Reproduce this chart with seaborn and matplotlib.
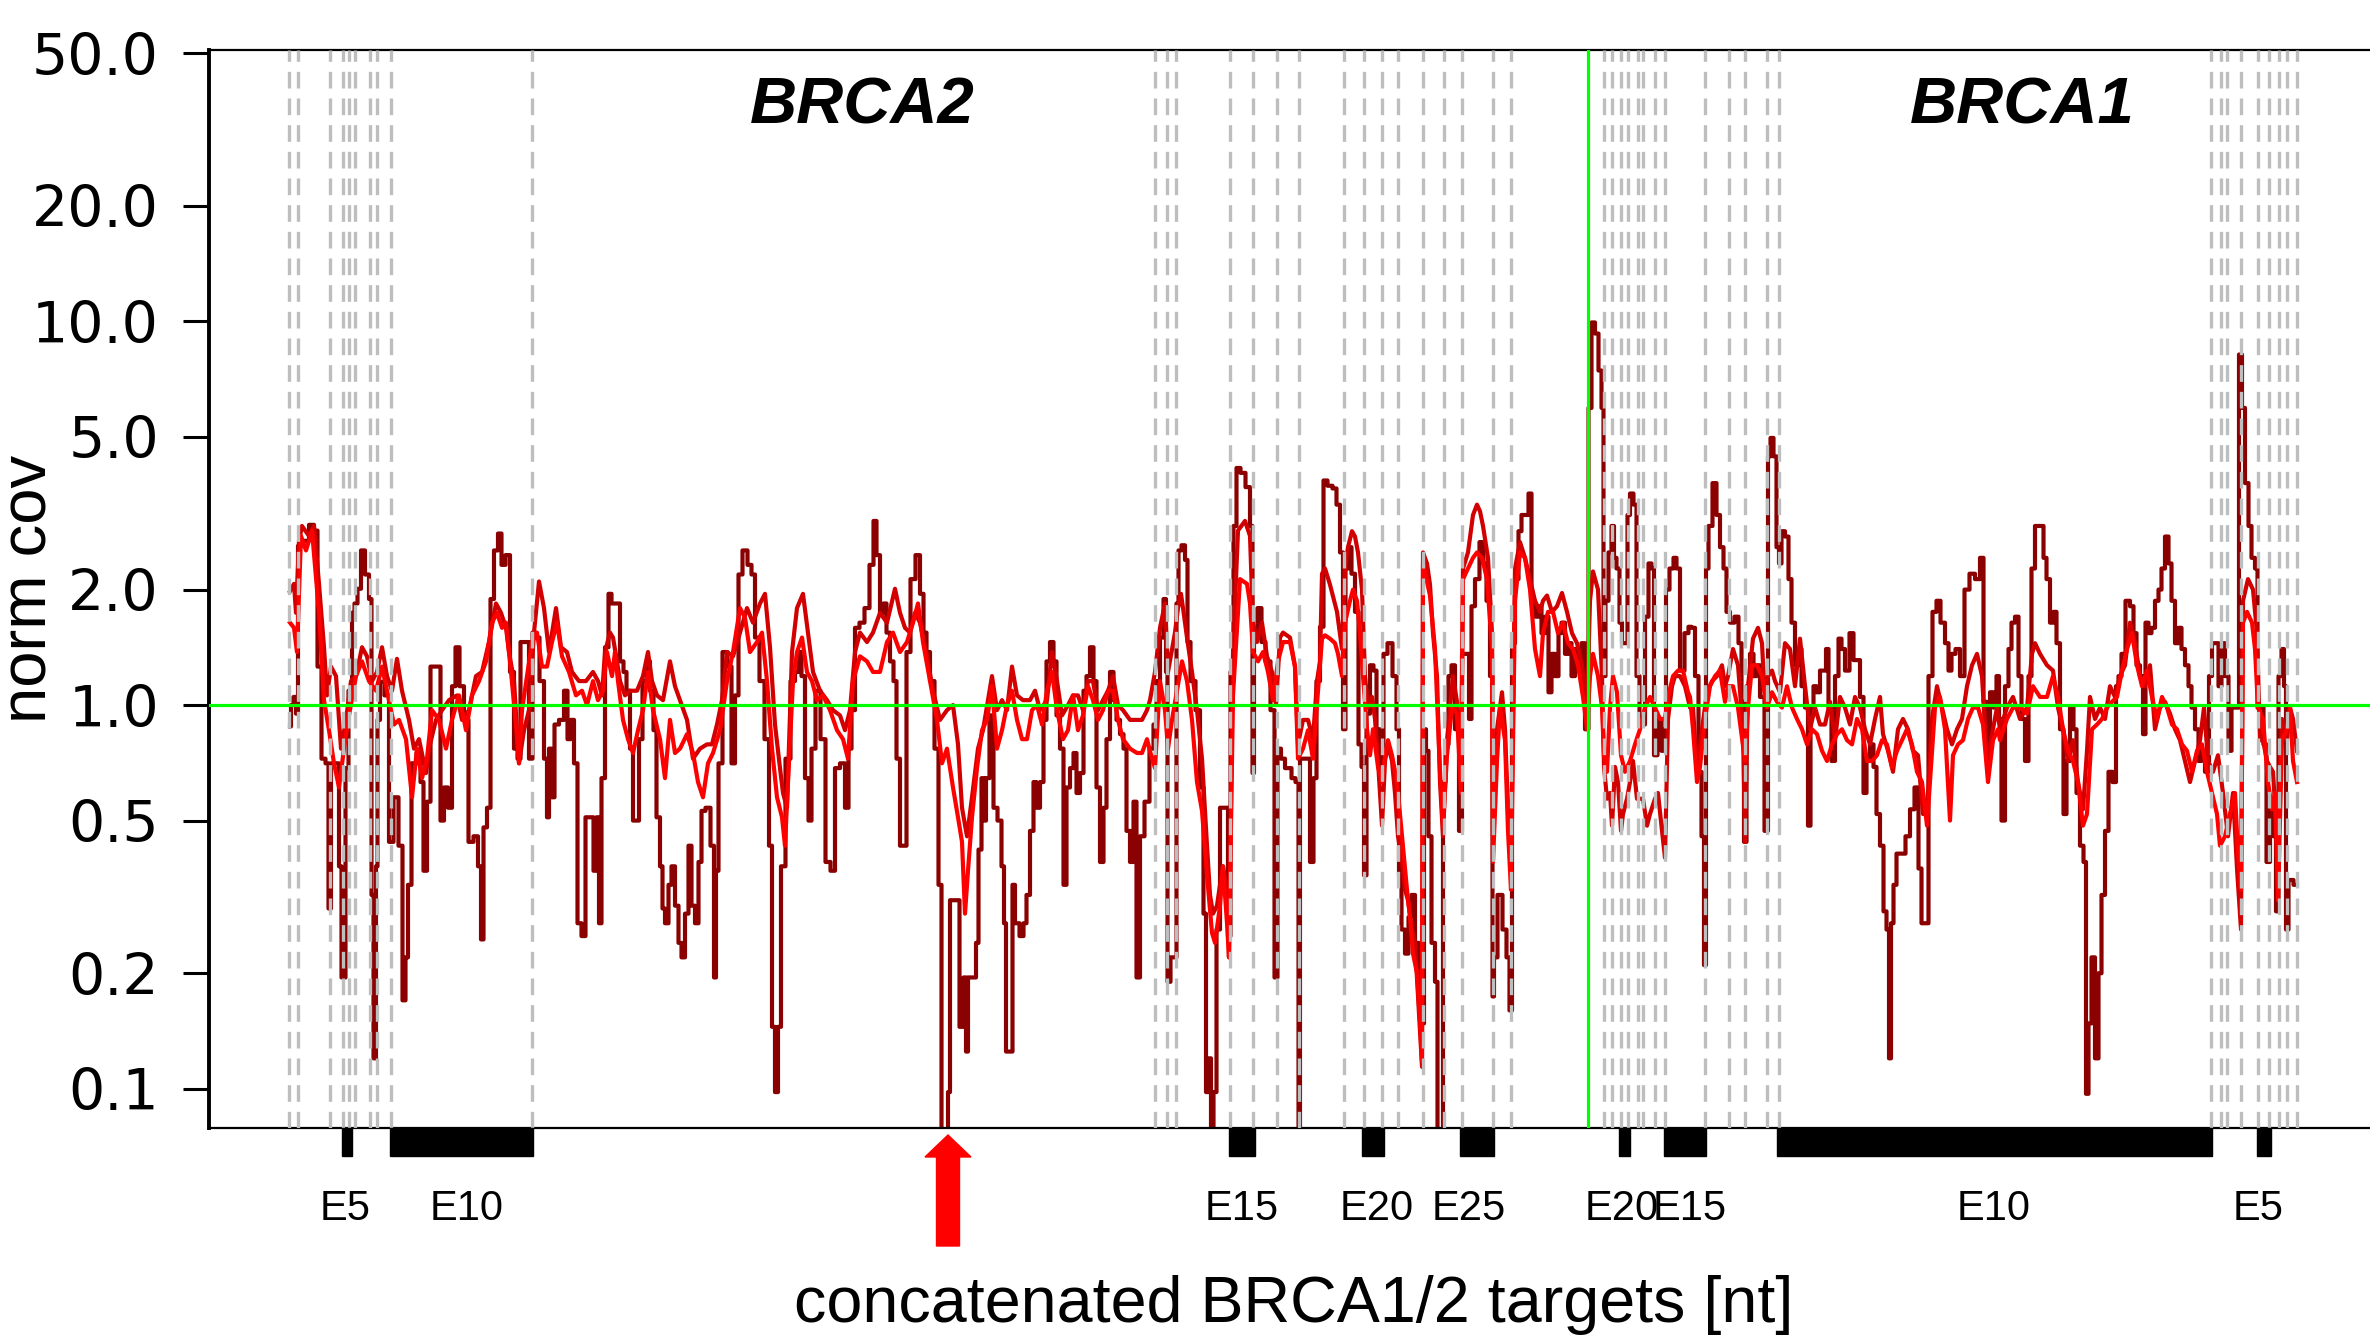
import matplotlib
matplotlib.use("Agg")
import matplotlib.pyplot as plt
import matplotlib.transforms as mtransforms
from matplotlib.patches import Rectangle, FancyArrow
import seaborn as sns
import numpy as np

# positions along the concatenated BRCA2 + BRCA1 targets, normalised coverage
dark_trace = [
    (290, 0.88), (292, 1.0), (295, 1.05), (297, 0.95), (299, 2.6), (306, 2.68), (312, 2.95), (316, 2.85),
    (319, 1.26), (324, 0.725), (327, 0.705), (330, 0.295), (332, 0.705), (337, 0.705), (341, 0.38),
    (342, 0.195), (345, 0.195), (346, 0.685), (351, 1.09), (353, 1.74), (356, 1.84), (359, 2.01),
    (363, 2.53), (367, 2.19), (371, 1.89), (372, 0.32), (375, 0.12), (377, 0.38), (378, 0.915),
    (382, 1.15), (387, 1.06), (391, 0.44), (396, 0.575), (401, 0.43), (404, 0.17), (407, 0.22),
    (409, 0.34), (414, 0.705), (419, 0.75), (422, 0.63), (425, 0.37), (429, 0.56), (432, 1.26),
    (439, 1.26), (442, 0.50), (446, 0.61), (450, 0.54), (454, 1.12), (457, 1.415), (462, 1.12),
    (466, 0.915), (471, 0.44), (476, 0.455), (480, 0.38), (482, 0.245), (485, 0.48), (489, 0.54),
    (492, 1.89), (496, 2.53), (500, 2.8), (503, 2.32), (508, 2.46), (512, 1.22), (516, 0.77),
    (519, 0.725), (522, 1.46), (527, 1.46), (531, 0.725), (534, 1.545), (537, 1.50), (542, 1.155),
    (546, 0.725), (548, 0.51), (550, 0.77), (553, 0.575), (556, 0.89), (562, 0.915), (566, 1.09),
    (569, 0.815), (572, 0.915), (576, 0.705), (579, 0.27), (584, 0.25), (587, 0.51), (592, 0.51),
    (595, 0.37), (598, 0.51), (600, 0.27), (603, 0.645), (607, 1.415), (610, 1.95), (613, 1.84),
    (618, 1.84), (622, 1.30), (625, 1.22), (628, 1.09), (632, 0.77), (634, 0.50), (638, 0.50),
    (640, 0.815), (645, 1.155), (648, 1.30), (652, 1.09), (655, 0.86), (658, 0.51), (662, 0.38),
    (663, 0.295), (667, 0.27), (670, 0.34), (673, 0.38), (677, 0.30), (680, 0.24), (683, 0.22),
    (687, 0.286), (690, 0.43), (693, 0.30), (697, 0.27), (700, 0.39), (703, 0.53), (708, 0.54),
    (713, 0.43), (715, 0.195), (717, 0.37), (720, 0.705), (725, 1.375), (730, 1.26), (733, 0.705),
    (737, 1.06), (740, 2.19), (745, 2.53), (750, 2.32), (753, 2.19), (757, 1.50), (762, 1.155),
    (767, 0.815), (771, 0.43), (773, 0.145), (777, 0.098), (779, 0.145), (783, 0.38), (788, 0.725),
    (793, 1.155), (797, 1.22), (800, 1.375), (803, 1.19), (807, 0.645), (810, 0.50), (813, 0.77),
    (818, 1.09), (823, 0.815), (828, 0.39), (833, 0.37), (837, 0.685), (843, 0.705), (847, 0.54),
    (850, 0.77), (853, 0.97), (857, 1.59), (862, 1.64), (867, 1.79), (872, 2.32), (875, 3.02),
    (878, 2.46), (882, 1.74), (885, 1.84), (888, 1.545), (892, 1.30), (895, 1.155), (898, 0.725),
    (902, 0.43), (905, 0.43), (908, 1.375), (913, 2.13), (918, 2.46), (922, 1.95), (925, 1.545),
    (928, 1.375), (932, 1.155), (937, 0.77), (940, 0.34), (943, 0.07), (947, 0.07), (949, 0.098),
    (951, 0.31), (957, 0.31), (962, 0.145), (965, 0.195), (967, 0.125), (969, 0.195), (975, 0.195),
    (977, 0.24), (980, 0.42), (983, 0.645), (985, 0.50), (987, 0.645), (992, 0.94), (995, 0.54),
    (1000, 0.50), (1003, 0.38), (1005, 0.27), (1007, 0.125), (1012, 0.125), (1013, 0.34),
    (1017, 0.27), (1022, 0.25), (1025, 0.27), (1028, 0.32), (1032, 0.47), (1035, 0.63),
    (1038, 0.54), (1042, 0.63), (1045, 0.915), (1048, 1.30), (1052, 1.46), (1055, 1.30),
    (1058, 0.94), (1062, 0.77), (1065, 0.34), (1068, 0.61), (1072, 0.685), (1075, 0.75),
    (1078, 0.59), (1082, 0.665), (1085, 1.09), (1088, 1.19), (1092, 1.415), (1095, 1.155),
    (1098, 0.61), (1102, 0.39), (1105, 0.54), (1108, 0.815), (1112, 1.22), (1115, 1.03),
    (1118, 0.915), (1122, 0.84), (1125, 0.77), (1128, 0.47), (1132, 0.39), (1135, 0.56),
    (1138, 0.195), (1142, 0.455), (1147, 0.56), (1152, 0.77), (1155, 0.89), (1158, 1.155),
    (1162, 1.50), (1165, 1.89), (1167, 1.22), (1168, 0.19), (1173, 0.22), (1176, 0.22),
    (1177, 1.84), (1180, 2.53), (1183, 2.61), (1187, 2.39), (1188, 1.46), (1193, 1.155),
    (1198, 0.97), (1202, 0.61), (1205, 0.286), (1207, 0.098), (1210, 0.12), (1212, 0.07),
    (1215, 0.098), (1218, 0.26), (1222, 0.54), (1227, 0.54), (1229, 0.25), (1232, 1.22),
    (1235, 2.93), (1238, 4.15), (1243, 4.03), (1248, 3.70), (1252, 2.93), (1253, 0.665),
    (1255, 1.50), (1260, 1.79), (1263, 1.46), (1268, 1.30), (1273, 0.97), (1276, 0.195),
    (1279, 0.77), (1283, 0.725), (1287, 0.685), (1290, 0.685), (1293, 0.645), (1298, 0.63),
    (1299, 0.07), (1301, 0.725), (1308, 0.725), (1312, 0.39), (1315, 0.645), (1318, 1.155),
    (1322, 1.6), (1325, 3.85), (1330, 3.73), (1335, 3.67), (1338, 3.33), (1342, 2.50),
    (1344, 0.865), (1347, 2.27), (1350, 2.58), (1353, 2.20), (1357, 1.75), (1360, 0.79),
    (1363, 0.69), (1365, 0.36), (1368, 0.95), (1372, 1.27), (1375, 1.23), (1378, 0.865),
    (1382, 0.67), (1385, 1.36), (1390, 1.45), (1395, 1.19), (1398, 0.865), (1400, 0.36),
    (1403, 0.26), (1407, 0.225), (1410, 0.28), (1413, 0.32), (1417, 0.24), (1420, 0.174),
    (1423, 0.148), (1425, 0.865), (1427, 0.76), (1430, 0.455), (1433, 0.24), (1437, 0.19),
    (1438, 0.07), (1442, 0.07), (1444, 0.63), (1447, 0.79), (1450, 1.19), (1453, 1.27),
    (1457, 0.865), (1461, 0.47), (1463, 1.36), (1468, 1.36), (1470, 0.92), (1473, 1.81),
    (1477, 2.13), (1482, 2.66), (1485, 2.34), (1488, 1.87), (1492, 1.19), (1493, 0.174),
    (1495, 0.22), (1500, 0.32), (1505, 0.26), (1508, 0.22), (1511, 0.16), (1513, 1.45),
    (1517, 2.13), (1520, 2.84), (1523, 3.13), (1527, 3.13), (1530, 3.56), (1533, 1.87),
    (1537, 1.70), (1540, 1.81), (1543, 1.54), (1547, 1.70), (1550, 1.08), (1553, 1.36),
    (1557, 1.19), (1560, 1.54), (1563, 1.64), (1567, 1.36), (1570, 1.45), (1573, 1.19),
    (1577, 1.40), (1580, 1.23), (1583, 1.45), (1587, 0.865), (1590, 5.95), (1593, 9.94),
    (1597, 9.3), (1600, 7.45), (1603, 5.95), (1604, 1.19), (1607, 1.87), (1610, 2.50),
    (1613, 2.93), (1615, 2.42), (1618, 2.27), (1621, 1.64), (1623, 1.45), (1627, 1.45),
    (1628, 3.13), (1632, 3.56), (1635, 3.33), (1638, 1.19), (1641, 0.92), (1643, 0.89),
    (1647, 1.70), (1650, 2.34), (1653, 2.27), (1655, 0.74), (1660, 0.92), (1663, 0.76),
    (1665, 0.865), (1667, 2.0), (1672, 2.27), (1675, 2.42), (1678, 2.27), (1682, 1.23),
    (1687, 1.54), (1690, 1.60), (1693, 1.59), (1697, 1.19), (1700, 0.67), (1703, 0.455),
    (1705, 0.21), (1707, 2.27), (1710, 2.93), (1715, 3.79), (1718, 3.13), (1722, 2.58),
    (1725, 2.27), (1728, 1.75), (1732, 1.64), (1737, 1.70), (1740, 1.45), (1743, 1.02),
    (1745, 0.44), (1748, 1.12), (1752, 1.36), (1755, 1.19), (1758, 1.27), (1762, 1.05),
    (1767, 0.47), (1769, 4.45), (1772, 4.97), (1775, 4.45), (1778, 2.58), (1780, 2.34),
    (1783, 2.84), (1787, 2.75), (1790, 2.13), (1793, 1.64), (1797, 1.27), (1800, 1.40),
    (1803, 1.12), (1807, 0.985), (1809, 0.485), (1812, 0.985), (1815, 1.12), (1818, 1.08),
    (1822, 1.23), (1825, 1.23), (1827, 1.40), (1830, 0.985), (1833, 0.715), (1837, 1.19),
    (1840, 1.49), (1843, 1.40), (1847, 1.23), (1852, 1.54), (1855, 1.31), (1858, 1.31),
    (1862, 1.05), (1865, 0.59), (1868, 0.715), (1872, 0.79), (1875, 0.69), (1878, 0.52),
    (1882, 0.43), (1885, 0.29), (1888, 0.26), (1890, 0.12), (1892, 0.27), (1895, 0.34),
    (1898, 0.41), (1903, 0.41), (1908, 0.455), (1912, 0.535), (1917, 0.61), (1920, 0.375),
    (1923, 0.27), (1927, 0.27), (1930, 1.19), (1935, 1.75), (1938, 1.87), (1943, 1.64),
    (1947, 1.45), (1950, 1.23), (1953, 1.36), (1958, 1.40), (1962, 1.19), (1967, 2.0),
    (1972, 2.20), (1978, 2.13), (1982, 2.42), (1985, 1.02), (1988, 0.79), (1992, 1.08),
    (1995, 0.985), (1998, 1.19), (2000, 0.92), (2003, 0.50), (2007, 1.12), (2010, 1.40),
    (2013, 1.64), (2017, 1.70), (2020, 1.19), (2023, 0.92), (2027, 0.715), (2030, 1.19),
    (2033, 2.27), (2037, 2.93), (2042, 2.93), (2045, 2.42), (2048, 2.13), (2052, 1.64),
    (2055, 1.75), (2058, 1.45), (2062, 0.865), (2065, 0.52), (2068, 0.715), (2072, 0.985),
    (2075, 0.865), (2078, 0.59), (2082, 0.43), (2085, 0.39), (2087, 0.097), (2090, 0.148),
    (2093, 0.22), (2097, 0.12), (2100, 0.20), (2103, 0.32), (2107, 0.47), (2110, 0.67),
    (2115, 0.63), (2117, 1.12), (2120, 1.19), (2123, 1.36), (2128, 1.87), (2132, 1.81),
    (2135, 1.54), (2138, 1.27), (2142, 1.19), (2144, 0.84), (2147, 1.64), (2150, 1.54),
    (2153, 1.59), (2157, 1.87), (2160, 2.0), (2163, 2.27), (2167, 2.75), (2170, 2.34),
    (2173, 1.87), (2177, 1.45), (2180, 1.59), (2183, 1.40), (2187, 1.27), (2190, 1.12),
    (2193, 0.985), (2197, 0.865), (2200, 0.715), (2203, 0.76), (2207, 0.67), (2211, 1.19),
    (2213, 1.45), (2217, 1.45), (2220, 1.12), (2223, 1.45), (2227, 1.19), (2230, 0.76),
    (2233, 0.985), (2237, 0.985), (2241, 8.2), (2243, 5.95), (2247, 3.79), (2250, 2.93),
    (2253, 2.42), (2257, 2.27), (2258, 0.985), (2262, 0.985), (2265, 0.79), (2268, 0.39),
    (2272, 0.55), (2275, 0.455), (2277, 0.29), (2280, 1.19), (2283, 1.40), (2285, 1.12),
    (2287, 0.26), (2290, 0.35), (2297, 0.34),
]

mid_trace = [
    (290, 1.98), (294, 2.07), (296, 1.74), (299, 2.68), (302, 2.93), (309, 2.76), (314, 2.93),
    (319, 2.07), (324, 1.415), (327, 1.06), (331, 1.26), (336, 1.19), (341, 0.77), (346, 0.915),
    (351, 1.155), (356, 1.19), (362, 1.415), (367, 1.34), (372, 1.155), (377, 1.22), (382, 1.415),
    (387, 1.19), (392, 1.09), (397, 1.32), (402, 1.09), (409, 0.915), (414, 0.77), (419, 0.815),
    (426, 0.665), (429, 0.77), (436, 0.915), (442, 0.97), (449, 1.03), (457, 1.06), (462, 0.915),
    (469, 0.97), (476, 1.19), (482, 1.22), (489, 1.46), (496, 1.84), (501, 1.74), (506, 1.59),
    (509, 1.375), (514, 1.155), (519, 0.705), (524, 0.86), (529, 0.97), (534, 1.545), (539, 2.1),
    (544, 1.79), (549, 1.375), (556, 1.79), (561, 1.415), (567, 1.375), (572, 1.22), (579, 1.155),
    (586, 1.155), (593, 1.22), (598, 1.155), (602, 1.06), (605, 1.375), (610, 1.545), (613, 1.50),
    (617, 1.30), (620, 1.155), (625, 1.06), (630, 1.09), (637, 1.09), (643, 1.19), (648, 1.375),
    (652, 1.155), (657, 1.06), (663, 1.03), (670, 1.30), (675, 1.12), (680, 1.03), (687, 0.915),
    (693, 0.725), (700, 0.77), (707, 0.79), (712, 0.79), (717, 0.89), (722, 1.03), (727, 1.375),
    (733, 1.34), (740, 1.545), (747, 1.79), (753, 1.64), (760, 1.84), (765, 1.95), (770, 1.415),
    (775, 0.89), (780, 0.685), (783, 0.59), (787, 0.54), (792, 1.375), (797, 1.79), (803, 1.95),
    (808, 1.545), (813, 1.22), (820, 1.09), (827, 1.03), (833, 0.97), (840, 0.94), (845, 0.86),
    (850, 0.97), (855, 1.375), (860, 1.545), (867, 1.46), (873, 1.545), (880, 1.74), (887, 1.64),
    (895, 2.01), (900, 1.74), (905, 1.59), (910, 1.545), (915, 1.74), (920, 1.64), (927, 1.34),
    (933, 1.09), (940, 0.915), (947, 0.97), (953, 1.0), (958, 0.79), (962, 0.54), (967, 0.455),
    (972, 0.575), (978, 0.77), (983, 0.86), (988, 1.03), (992, 1.19), (997, 0.97), (1002, 1.03),
    (1007, 0.97), (1012, 1.26), (1017, 1.06), (1023, 1.03), (1030, 1.03), (1035, 1.09),
    (1040, 0.97), (1047, 1.03), (1052, 1.375), (1057, 1.155), (1062, 0.94), (1068, 1.0),
    (1073, 1.06), (1078, 1.06), (1083, 0.97), (1088, 1.155), (1093, 1.155), (1098, 0.97),
    (1103, 1.03), (1108, 1.09), (1113, 1.19), (1118, 1.0), (1123, 0.97), (1130, 0.915),
    (1137, 0.915), (1142, 0.915), (1147, 0.97), (1150, 1.03), (1155, 1.22), (1160, 1.59),
    (1165, 1.84), (1168, 1.22), (1175, 1.545), (1178, 1.79), (1181, 1.95), (1183, 1.79),
    (1187, 1.50), (1192, 1.22), (1197, 0.97), (1202, 0.725), (1207, 0.43), (1210, 0.32),
    (1213, 0.286), (1217, 0.30), (1220, 0.34), (1223, 0.38), (1227, 0.33), (1229, 0.22),
    (1233, 1.375), (1238, 2.85), (1245, 3.02), (1250, 2.76), (1253, 1.64), (1257, 1.46),
    (1262, 1.64), (1267, 1.34), (1272, 1.22), (1276, 1.0), (1280, 1.50), (1283, 1.545),
    (1290, 1.50), (1295, 1.26), (1298, 0.79), (1303, 0.915), (1308, 0.915), (1313, 0.815),
    (1317, 1.155), (1320, 1.30), (1322, 2.20), (1325, 2.27), (1330, 2.06), (1337, 1.75),
    (1342, 1.40), (1345, 2.27), (1348, 2.58), (1352, 2.84), (1355, 2.75), (1358, 2.50),
    (1362, 2.0), (1365, 1.19), (1368, 0.985), (1372, 1.05), (1375, 0.92), (1378, 0.715),
    (1382, 0.485), (1385, 0.715), (1388, 0.79), (1392, 0.715), (1395, 0.59), (1398, 0.455),
    (1402, 0.39), (1405, 0.33), (1408, 0.31), (1412, 0.26), (1415, 0.24), (1418, 0.174),
    (1422, 0.114), (1423, 2.50), (1427, 2.34), (1430, 2.06), (1433, 1.54), (1437, 1.19),
    (1440, 0.63), (1443, 0.455), (1447, 0.81), (1450, 0.985), (1453, 1.19), (1457, 1.02),
    (1461, 0.63), (1463, 2.27), (1468, 2.50), (1473, 3.13), (1477, 3.33), (1480, 3.2),
    (1483, 2.93), (1488, 2.42), (1492, 1.54), (1493, 0.455), (1497, 0.865), (1502, 1.08),
    (1505, 0.865), (1508, 0.535), (1511, 0.39), (1515, 2.27), (1520, 2.66), (1525, 2.42),
    (1530, 2.13), (1535, 1.87), (1540, 1.75), (1543, 1.87), (1547, 1.93), (1552, 1.75),
    (1557, 1.81), (1562, 1.96), (1567, 1.75), (1572, 1.54), (1577, 1.45), (1582, 1.27),
    (1587, 0.985), (1590, 1.87), (1593, 2.23), (1598, 2.0), (1602, 1.19), (1604, 0.69),
    (1607, 0.57), (1610, 0.59), (1612, 0.485), (1615, 0.69), (1618, 0.63), (1621, 0.47),
    (1623, 0.52), (1627, 0.57), (1630, 0.63), (1633, 0.715), (1637, 0.57), (1640, 0.57),
    (1643, 0.57), (1647, 0.485), (1650, 0.52), (1655, 0.57), (1658, 0.59), (1662, 0.47),
    (1665, 0.40), (1668, 0.92), (1672, 1.12), (1675, 1.19), (1680, 1.19), (1685, 1.12),
    (1690, 0.985), (1693, 0.985), (1697, 0.67), (1702, 0.865), (1707, 1.08), (1712, 1.155),
    (1717, 1.19), (1722, 1.27), (1725, 1.12), (1728, 1.19), (1733, 1.40), (1738, 1.27),
    (1743, 0.865), (1745, 0.44), (1748, 1.12), (1753, 1.49), (1758, 1.59), (1762, 1.45),
    (1765, 1.02), (1768, 1.19), (1772, 1.23), (1775, 1.155), (1780, 1.08), (1785, 1.45),
    (1790, 1.40), (1795, 1.12), (1800, 1.49), (1805, 1.12), (1810, 0.865), (1815, 0.985),
    (1820, 0.89), (1825, 0.89), (1830, 1.02), (1835, 0.81), (1840, 1.05), (1845, 0.985),
    (1850, 0.89), (1855, 1.05), (1860, 0.985), (1865, 0.865), (1870, 0.79), (1875, 0.92),
    (1880, 1.05), (1883, 0.84), (1888, 0.76), (1893, 0.67), (1898, 0.865), (1903, 0.92),
    (1908, 0.865), (1913, 0.76), (1918, 0.74), (1923, 0.52), (1927, 0.52), (1932, 0.92),
    (1937, 1.12), (1942, 0.985), (1947, 0.865), (1952, 0.79), (1957, 0.865), (1962, 0.92),
    (1967, 1.12), (1972, 1.27), (1977, 1.36), (1982, 1.19), (1987, 0.715), (1992, 0.84),
    (1997, 0.985), (2000, 0.865), (2007, 0.985), (2013, 1.05), (2020, 0.92), (2027, 0.985),
    (2032, 1.36), (2035, 1.45), (2040, 1.36), (2047, 1.27), (2053, 1.23), (2058, 0.985),
    (2063, 0.865), (2068, 0.715), (2073, 0.81), (2078, 0.63), (2083, 0.535), (2087, 0.76),
    (2090, 1.05), (2095, 0.92), (2100, 0.985), (2105, 0.92), (2110, 1.12), (2115, 1.05),
    (2120, 1.19), (2125, 1.27), (2130, 1.64), (2135, 1.45), (2140, 1.19), (2145, 1.12),
    (2150, 1.27), (2155, 0.865), (2160, 0.985), (2165, 1.02), (2170, 0.95), (2175, 0.865),
    (2180, 0.81), (2185, 0.715), (2190, 0.63), (2195, 0.715), (2200, 0.81), (2204, 0.985),
    (2208, 0.715), (2213, 0.67), (2218, 0.74), (2223, 0.59), (2228, 0.455), (2233, 0.59),
    (2237, 0.375), (2241, 0.26), (2243, 1.87), (2248, 2.13), (2253, 2.0), (2257, 1.54),
    (2260, 0.81), (2263, 0.81), (2267, 0.715), (2270, 0.69), (2273, 0.67), (2277, 0.455),
    (2282, 0.92), (2287, 0.81), (2290, 0.985), (2293, 0.92), (2297, 0.76),
]

bright_trace = [
    (290, 1.64), (294, 1.59), (297, 1.375), (301, 2.76), (306, 2.53), (312, 2.85), (319, 1.74),
    (324, 1.03), (329, 0.86), (334, 0.705), (339, 0.61), (344, 0.77), (349, 0.94), (356, 1.19),
    (362, 1.30), (369, 1.155), (376, 1.09), (382, 1.26), (389, 1.03), (394, 0.89), (399, 0.915),
    (406, 0.815), (412, 0.575), (417, 0.77), (422, 0.645), (427, 0.725), (432, 0.97), (439, 0.915),
    (446, 0.77), (452, 0.915), (459, 1.06), (466, 0.86), (472, 1.06), (479, 1.155), (486, 1.30),
    (492, 1.64), (497, 1.74), (502, 1.59), (506, 1.64), (511, 1.22), (516, 0.89), (519, 0.705),
    (522, 0.97), (527, 1.19), (532, 1.46), (537, 1.545), (542, 1.26), (547, 1.26), (552, 1.46),
    (557, 1.64), (562, 1.34), (569, 1.22), (576, 1.06), (582, 1.09), (587, 1.0), (593, 1.155),
    (598, 1.03), (603, 1.09), (607, 1.375), (612, 1.19), (615, 1.375), (618, 1.155), (623, 0.915),
    (628, 0.815), (633, 0.75), (638, 0.86), (643, 0.97), (648, 1.22), (653, 0.97), (660, 0.815),
    (665, 0.645), (670, 0.915), (675, 0.75), (680, 0.77), (687, 0.84), (693, 0.75), (698, 0.63),
    (703, 0.575), (708, 0.705), (713, 0.75), (720, 0.86), (727, 1.155), (733, 1.375), (740, 1.79),
    (745, 1.69), (750, 1.375), (757, 1.46), (762, 1.545), (767, 1.155), (772, 0.77), (777, 0.575),
    (782, 0.51), (785, 0.43), (788, 0.63), (793, 1.155), (797, 1.375), (802, 1.50), (807, 1.22),
    (812, 1.155), (817, 1.03), (823, 1.06), (830, 0.97), (837, 0.86), (843, 0.815), (848, 0.725),
    (853, 1.155), (860, 1.34), (867, 1.30), (873, 1.22), (880, 1.22), (887, 1.46), (893, 1.545),
    (900, 1.375), (907, 1.46), (913, 1.64), (918, 1.84), (923, 1.46), (930, 1.155), (937, 0.915),
    (942, 0.705), (947, 0.77), (953, 0.61), (958, 0.51), (962, 0.44), (965, 0.286), (968, 0.37),
    (972, 0.51), (977, 0.685), (982, 0.86), (987, 0.915), (992, 1.12), (997, 0.77), (1002, 0.86),
    (1007, 1.0), (1012, 1.09), (1017, 0.915), (1022, 0.815), (1027, 0.815), (1032, 0.97),
    (1037, 1.0), (1042, 0.89), (1047, 1.09), (1052, 1.22), (1057, 0.97), (1063, 0.815),
    (1068, 0.86), (1073, 1.06), (1078, 0.86), (1083, 0.94), (1088, 1.12), (1093, 1.03),
    (1098, 0.915), (1103, 0.97), (1108, 1.09), (1113, 1.09), (1118, 0.915), (1123, 0.815),
    (1130, 0.77), (1137, 0.75), (1142, 0.75), (1147, 0.815), (1152, 0.725), (1155, 0.685),
    (1160, 1.155), (1165, 0.97), (1168, 0.77), (1172, 0.915), (1177, 1.09), (1182, 1.30),
    (1187, 1.155), (1192, 0.915), (1197, 0.63), (1202, 0.53), (1207, 0.36), (1212, 0.255),
    (1215, 0.24), (1220, 0.30), (1223, 0.38), (1227, 0.27), (1229, 0.22), (1233, 1.06),
    (1240, 2.13), (1247, 2.07), (1250, 1.84), (1253, 1.375), (1258, 1.30), (1263, 1.375),
    (1268, 1.22), (1273, 1.03), (1278, 1.30), (1283, 1.46), (1290, 1.46), (1295, 1.26),
    (1298, 0.725), (1303, 0.77), (1308, 0.86), (1313, 0.725), (1318, 1.09), (1322, 1.49),
    (1325, 1.52), (1330, 1.49), (1335, 1.45), (1338, 1.36), (1342, 1.19), (1345, 1.64),
    (1350, 1.87), (1353, 2.0), (1357, 1.87), (1360, 1.54), (1363, 1.19), (1367, 0.865),
    (1370, 0.74), (1373, 0.865), (1378, 0.69), (1382, 0.63), (1385, 0.74), (1388, 0.81),
    (1392, 0.74), (1397, 0.63), (1402, 0.455), (1407, 0.33), (1410, 0.28), (1413, 0.225),
    (1417, 0.20), (1420, 0.15), (1422, 0.118), (1423, 2.34), (1430, 1.93), (1435, 1.40),
    (1440, 0.67), (1443, 0.485), (1447, 0.74), (1452, 0.985), (1457, 0.95), (1461, 0.59),
    (1463, 2.13), (1468, 2.27), (1473, 2.42), (1477, 2.50), (1482, 2.42), (1487, 2.13),
    (1492, 1.40), (1493, 0.39), (1497, 0.715), (1500, 0.985), (1505, 0.81), (1508, 0.47),
    (1511, 0.33), (1515, 1.87), (1520, 2.50), (1525, 2.42), (1530, 2.0), (1535, 1.40),
    (1540, 1.19), (1543, 1.54), (1548, 1.75), (1553, 1.75), (1558, 1.54), (1563, 1.64),
    (1568, 1.45), (1573, 1.40), (1578, 1.27), (1583, 1.05), (1587, 0.865), (1590, 1.19),
    (1593, 1.36), (1598, 1.19), (1602, 0.985), (1604, 0.74), (1607, 0.67), (1610, 0.985),
    (1613, 1.19), (1617, 1.08), (1621, 0.74), (1625, 0.67), (1630, 0.715), (1635, 0.79),
    (1640, 0.865), (1645, 0.985), (1650, 1.05), (1655, 0.985), (1660, 0.92), (1665, 0.92),
    (1668, 1.05), (1673, 1.19), (1678, 1.23), (1683, 1.23), (1688, 1.08), (1690, 1.05),
    (1693, 0.865), (1697, 0.63), (1700, 0.69), (1705, 0.92), (1710, 1.12), (1715, 1.19),
    (1720, 1.23), (1725, 1.02), (1728, 1.12), (1733, 1.12), (1738, 0.985), (1745, 0.715),
    (1748, 0.985), (1752, 1.27), (1757, 1.27), (1762, 1.19), (1767, 0.985), (1772, 1.08),
    (1777, 1.02), (1782, 0.985), (1787, 1.12), (1792, 0.985), (1797, 0.92), (1802, 0.865),
    (1807, 0.79), (1812, 0.865), (1817, 0.84), (1822, 0.76), (1827, 0.715), (1832, 0.79),
    (1837, 0.84), (1842, 0.865), (1847, 0.81), (1852, 0.79), (1857, 0.92), (1862, 0.865),
    (1867, 0.715), (1872, 0.715), (1877, 0.74), (1882, 0.81), (1887, 0.79), (1892, 0.69),
    (1897, 0.76), (1902, 0.81), (1907, 0.865), (1912, 0.79), (1917, 0.67), (1922, 0.63),
    (1927, 0.485), (1931, 0.69), (1935, 0.985), (1940, 1.05), (1945, 0.865), (1950, 0.50),
    (1953, 0.74), (1958, 0.79), (1963, 0.81), (1968, 0.92), (1973, 0.985), (1978, 0.985),
    (1983, 0.89), (1988, 0.63), (1993, 0.81), (1998, 0.865), (2000, 0.81), (2007, 0.92),
    (2013, 0.985), (2020, 0.985), (2027, 0.95), (2033, 1.12), (2040, 1.05), (2047, 1.05),
    (2053, 1.19), (2058, 1.05), (2063, 0.865), (2068, 0.76), (2073, 0.715), (2078, 0.63),
    (2083, 0.485), (2087, 0.52), (2092, 0.865), (2097, 0.89), (2102, 0.92), (2107, 0.985),
    (2112, 1.02), (2117, 1.05), (2122, 1.23), (2127, 1.40), (2132, 1.54), (2137, 1.27),
    (2142, 1.12), (2147, 1.23), (2152, 1.05), (2157, 0.92), (2162, 1.05), (2167, 0.985),
    (2172, 0.89), (2177, 0.865), (2182, 0.79), (2187, 0.76), (2192, 0.67), (2197, 0.76),
    (2202, 0.79), (2207, 0.67), (2212, 0.59), (2217, 0.52), (2220, 0.43), (2225, 0.455),
    (2230, 0.52), (2235, 0.59), (2238, 0.41), (2241, 0.33), (2243, 1.64), (2247, 1.75),
    (2252, 1.64), (2255, 1.40), (2258, 0.985), (2263, 0.92), (2268, 0.63), (2272, 0.535),
    (2275, 0.59), (2278, 0.31), (2282, 0.81), (2287, 0.865), (2290, 0.985), (2293, 0.715),
    (2297, 0.63),
]

# exon boundaries (dashed), exon blocks and their labels
exon_bounds = [289, 298, 330, 343, 349, 355, 370, 377, 391, 532, 1155, 1167, 1176, 1230, 1253,
               1277, 1299, 1344, 1364, 1382, 1398, 1423, 1444, 1462, 1493, 1511,
               1604, 1612, 1621, 1628, 1638, 1643, 1655, 1665, 1705, 1729, 1745, 1767, 1779,
               2211, 2221, 2227, 2241, 2258, 2269, 2279, 2287, 2297]
exon_blocks = [(342, 352), (390, 533), (1229, 1255), (1362, 1384), (1460, 1494),
               (1619, 1630), (1664, 1706), (1777, 2212), (2257, 2271)]
exon_labels = ["E5", "E10", "E15", "E20", "E25", "E20", "E15", "E10", "E5"]
exon_label_pos = [345, 467, 1242, 1377, 1469, 1622, 1690, 1994, 2258]
gene_names = ["BRCA2", "BRCA1"]
gene_name_pos = [862, 2022]
gene_border = 1588
deletion_pos = 948

y_ticks = [0.1, 0.2, 0.5, 1.0, 2.0, 5.0, 10.0, 20.0, 50.0]

W, H = 2370, 1338
fig = plt.figure(figsize=(W / 100, H / 100), dpi=100)
ax = fig.add_axes([209 / W, (H - 1128) / H, 1 - 209 / W, (1128 - 50) / H])

styles = [(dark_trace, "#8B0000", "steps-mid"),
          (mid_trace, "#D20000", "default"),
          (bright_trace, "#FF0000", "default")]
for trace, col, ds in styles:
    arr = np.array(trace)
    sns.lineplot(x=arr[:, 0], y=arr[:, 1], ax=ax, color=col, lw=3.0,
                 estimator=None, sort=False, drawstyle=ds)

ax.set_yscale("log")
ax.set_xlim(209, 2370)
ax.set_ylim(0.079, 51)

for b in exon_bounds:
    ax.axvline(b, color="#BEBEBE", lw=2.4, dashes=(5.0, 3.0), zorder=5)
ax.axhline(1.0, color="#00FF00", lw=2.3, zorder=6)
ax.axvline(gene_border, color="#00FF00", lw=2.3, zorder=6)

ax.set_yticks(y_ticks)
ax.set_yticklabels([f"{t:.1f}" for t in y_ticks], family="DejaVu Sans", fontsize=41)
ax.yaxis.set_minor_locator(plt.NullLocator())
ax.tick_params(axis="y", length=19, width=2.2, pad=17)
ax.set_xticks([])
ax.set_xlabel("")
ax.set_ylabel("")

ax.spines["right"].set_visible(False)
ax.spines["left"].set_linewidth(2.8)
ax.spines["top"].set_linewidth(1.6)
ax.spines["bottom"].set_linewidth(1.6)

blend = mtransforms.blended_transform_factory(ax.transData, ax.transAxes)
for s, e in exon_blocks:
    ax.add_patch(Rectangle((s, -0.026), e - s, 0.026, transform=blend,
                           color="black", clip_on=False, zorder=7))
for lab, xp in zip(exon_labels, exon_label_pos):
    ax.text(xp, -0.0755, lab, transform=blend, ha="center", va="center",
            family="Liberation Sans", fontsize=30)

for name, xp in zip(gene_names, gene_name_pos):
    ax.text(xp, (1128 - 107) / 1078, name, transform=blend, ha="center", va="center",
            family="Liberation Sans", fontsize=47, fontweight="bold", fontstyle="italic")

# arrow under the deletion
x_disp = ax.transData.transform((deletion_pos, 1.0))[0]
fig.add_artist(FancyArrow(x_disp, H - 1246, 0, 1246 - 1135, width=23, head_width=46,
                          head_length=22, length_includes_head=True, color="red",
                          transform=mtransforms.IdentityTransform()))

fig.text(1294 / W, 1 - 1305 / H, "concatenated BRCA1/2 targets [nt]", ha="center",
         va="center", family="Liberation Sans", fontsize=46.5)
fig.text(30 / W, 1 - 589 / H, "norm cov", ha="center", va="center", rotation=90,
         family="Liberation Sans", fontsize=47)

fig.savefig("out.png", dpi=100)
